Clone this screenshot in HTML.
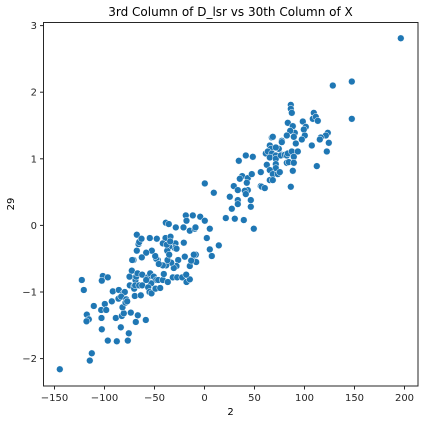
<!DOCTYPE html>
<html><head><meta charset="utf-8"><style>
body{margin:0;background:#fff;}
svg{display:block;font-family:"DejaVu Sans","Liberation Sans",sans-serif;}
</style></head><body>
<svg id="chart" width="424" height="424" viewBox="0 0 424 424">
<text x="230.5" y="16" font-size="12" text-anchor="middle" fill="#000">3rd Column of D_lsr vs 30th Column of X</text>
<g id="points"></g>
<rect x="43.5" y="22.5" width="374.5" height="363.5" fill="none" stroke="#262626" stroke-width="1"/>
<g id="xticks"></g>
<g id="yticks"></g>
<text x="230.5" y="415" font-size="10" text-anchor="middle" fill="#000">2</text>
<text x="14" y="204" font-size="10" text-anchor="middle" fill="#000" transform="rotate(-90 14 204)">29</text>
</svg>
<script>
const xTickValues = [-150,-100,-50,0,50,100,150,200];
const yTickValues = [-2,-1,0,1,2,3];
const xValues = [-122.7,-120.7,-101.7,-96.7,-102.7,-110.7,-117.7,-115.7,-118,-103.3,-99.7,-98.3,-103,-102.7,-96.7,-87.7,-76.7,-75.7,-83.7,-88.7,-82.7,-80.7,-73.7,-66.7,-68.7,-58.7,-92.7,-91.7,-85.7,-81.3,-79.7,-86,-83.3,-82,-78.3,-79,-77.3,-69.7,-63.7,-74.7,-70.3,-69,-70.3,-69.3,-65.3,-62.3,-68.3,-75,-72.7,-67,-62.3,-56.7,-54.3,-50.7,-48.3,-53.3,-58.3,-56.3,-55,-53,-49,-44.3,-46.3,-41.7,-36.7,-40.7,-31.7,-27.3,-22.3,-18,-14.7,-18.3,-14.7,-10.3,-8.3,-19.7,-13.3,-8.7,-10.7,-26.3,-28,-30.7,-33.3,-38.3,-41.7,-37,-46.7,-48.3,-45.7,-49.3,-52.7,-58.3,-62.7,-71,-72.3,-67.7,-66,-65.3,-67.7,-63,-54.7,-47.7,-39,-34,-29,-29.7,-35.3,-28,-37.3,-35.3,-28.7,-38.7,-35.7,-18.7,-11.7,-18,-21,-14.7,-9.7,-9,-20.7,-41.7,-37.7,-34.3,-112.7,-114.7,-144.7,5.3,7.3,14.3,
196.3,147.3,128.3,147.3,86.3,86.3,87.3,109.3,108.3,111.3,113.3,83.3,88.3,98.3,101.3,99.3,90.3,85.7,82.3,67.3,68.3,77.3,77.3,89.3,100.3,97.3,91.3,123.3,121.3,116.3,115.3,124.3,107.3,122.3,112.3,65.3,66.3,74.3,71.3,61.3,63.3,67.3,65.3,71.3,71.3,77.3,76.3,80.3,82.3,83.3,87.3,93.3,89.3,82.3,84.3,89.3,71.3,71.3,62.3,65.3,68.3,73.3,75.3,88.3,56.3,41.3,48.3,34.3,37.7,35.3,43.3,47.3,42.3,29.3,33.3,43.3,40.3,41.3,56.3,57.3,60.3,65.3,68.3,86.3,25.3,33.3,33.3,46.3,46.3,27.3,21.3,30.3,39.3,49.3,0.3,9.3,-4.3,0.3,5.3,2.3];
const yValues = [-0.82,-0.97,-0.76,-0.78,-0.83,-1.21,-1.34,-1.41,-1.44,-1.27,-1.18,-1.27,-1.39,-1.56,-1.73,-1.74,-1.73,-1.62,-1.53,-1.39,-1.36,-1.32,-1.31,-1.35,-1.45,-1.42,-1.14,-0.99,-0.97,-1.02,-1.00,-1.10,-1.07,-1.23,-1.11,-1.16,-1.14,-1.06,-1.05,-0.90,-0.91,-0.82,-0.95,-0.90,-0.90,-0.90,-0.77,-0.77,-0.68,-0.72,-0.74,-0.78,-0.72,-0.77,-0.82,-0.87,-0.82,-0.93,-1.00,-1.02,-0.95,-0.94,-0.82,-0.82,-0.85,-0.73,-0.78,-0.78,-0.78,-0.85,-0.81,-0.74,-0.61,-0.53,-0.55,-0.47,-0.53,-0.44,-0.44,-0.52,-0.61,-0.64,-0.56,-0.60,-0.60,-0.52,-0.52,-0.50,-0.58,-0.46,-0.38,-0.41,-0.48,-0.52,-0.52,-0.38,-0.28,-0.25,-0.14,-0.20,-0.19,-0.20,-0.19,-0.17,-0.27,-0.34,-0.32,-0.35,-0.38,-0.44,-0.03,0.04,0.02,0.15,0.15,0.07,-0.03,-0.08,-0.05,-0.03,-0.26,-0.27,-0.29,-0.24,-1.92,-2.03,-2.16,-0.36,-0.46,-0.30,
2.81,2.16,2.10,1.60,1.81,1.75,1.69,1.69,1.60,1.63,1.57,1.54,1.49,1.56,1.48,1.44,1.39,1.42,1.35,1.32,1.33,1.27,1.25,1.33,1.35,1.29,1.23,1.39,1.35,1.32,1.29,1.24,1.20,1.11,0.89,1.20,1.15,1.15,1.17,1.08,1.11,1.08,1.02,1.05,1.00,1.06,1.05,1.06,1.05,1.08,1.11,1.11,1.03,0.94,0.95,0.94,0.92,0.86,0.91,0.83,0.77,0.77,0.80,0.82,0.80,1.05,1.03,0.97,0.74,0.70,0.71,0.77,0.64,0.59,0.53,0.53,0.52,0.47,0.59,0.58,0.56,0.68,0.68,0.58,0.43,0.38,0.32,0.38,0.28,0.25,0.11,0.10,0.08,-0.05,0.63,0.49,0.13,0.07,-0.05,-0.19];

const NS = 'http://www.w3.org/2000/svg';
function sx(v){ return 204.5 + v * 1.0; }
function sy(v){ return 225.4 - v * 66.6; }

const pts = document.getElementById('points');
for (let i = 0; i < xValues.length; i++) {
  const c = document.createElementNS(NS, 'circle');
  c.setAttribute('cx', sx(xValues[i]));
  c.setAttribute('cy', sy(yValues[i]));
  c.setAttribute('r', 3.4);
  c.setAttribute('fill', '#1f77b4');
  c.setAttribute('stroke', '#fff');
  c.setAttribute('stroke-width', 0.5);
  
  
  pts.appendChild(c);
}

const xt = document.getElementById('xticks');
xTickValues.forEach(v => {
  const l = document.createElementNS(NS, 'line');
  l.setAttribute('x1', sx(v)); l.setAttribute('x2', sx(v));
  l.setAttribute('y1', 386); l.setAttribute('y2', 389.5);
  l.setAttribute('stroke', '#262626');
  
  
  xt.appendChild(l);
  const t = document.createElementNS(NS, 'text');
  t.setAttribute('x', sx(v)); t.setAttribute('y', 401);
  t.setAttribute('font-size', '10'); t.setAttribute('text-anchor', 'middle');
  t.setAttribute('fill', '#262626');
  t.textContent = v < 0 ? '\u2212' + Math.abs(v) : String(v);
  
  
  xt.appendChild(t);
});

const yt = document.getElementById('yticks');
yTickValues.forEach(v => {
  const l = document.createElementNS(NS, 'line');
  l.setAttribute('x1', 40); l.setAttribute('x2', 43.5);
  l.setAttribute('y1', sy(v)); l.setAttribute('y2', sy(v));
  l.setAttribute('stroke', '#262626');
  
  
  yt.appendChild(l);
  const t = document.createElementNS(NS, 'text');
  t.setAttribute('x', 37); t.setAttribute('y', sy(v) + 3.5);
  t.setAttribute('font-size', '10'); t.setAttribute('text-anchor', 'end');
  t.setAttribute('fill', '#262626');
  t.textContent = v < 0 ? '\u2212' + Math.abs(v) : String(v);
  
  
  yt.appendChild(t);
});
</script>
</body></html>
